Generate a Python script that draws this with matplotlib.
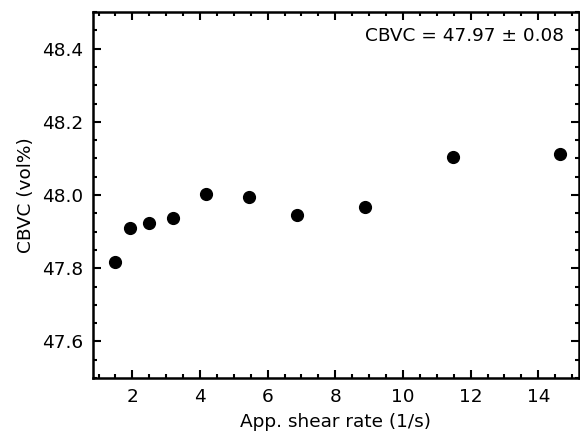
import numpy as np
import matplotlib.pyplot as plt
from matplotlib.ticker import MultipleLocator

# Data
shear_rate = [1.49, 1.93, 2.49, 3.20, 4.18, 5.46, 6.88, 8.87, 11.47, 14.64]
cbvc = [47.818, 47.911, 47.924, 47.937, 48.004, 47.995, 47.945, 47.968, 48.104, 48.111]
label = "CBVC = 47.97 ± 0.08"

plt.rcParams['font.size'] = 13.3

fig = plt.figure(figsize=(5.8, 4.34), dpi=100)
ax = fig.add_axes([0.160, 0.129, 0.838, 0.843])

ax.scatter(shear_rate, cbvc, s=72, color='black', zorder=3)

ax.set_xlim(0.83, 15.2)
ax.set_ylim(47.5, 48.5)
ax.xaxis.set_major_locator(MultipleLocator(2))
ax.xaxis.set_minor_locator(MultipleLocator(0.5))
ax.yaxis.set_major_locator(MultipleLocator(0.2))
ax.yaxis.set_minor_locator(MultipleLocator(0.05))
ax.tick_params(which='both', direction='in', top=True, right=True, width=1.5)
ax.tick_params(which='major', length=6, pad=7)
ax.tick_params(which='minor', length=3)
for sp in ax.spines.values():
    sp.set_linewidth(1.8)

ax.set_xlabel("App. shear rate (1/s)", labelpad=5)
ax.set_ylabel("CBVC (vol%)", labelpad=5)
ax.text(0.969, 0.935, label, transform=ax.transAxes, ha='right', va='center')

plt.savefig("out.png", dpi=100)
